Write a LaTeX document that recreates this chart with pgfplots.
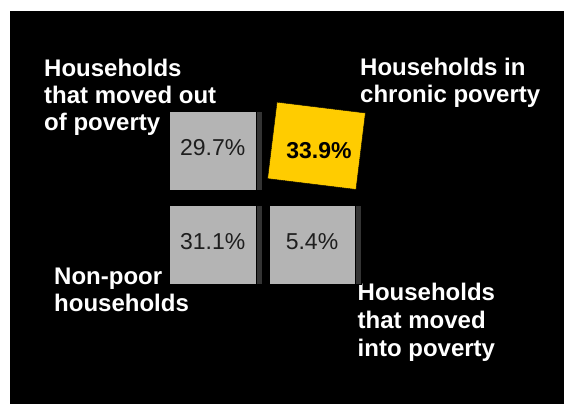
\documentclass[border=0pt]{standalone}
\usepackage{fontspec}
\setmainfont{Liberation Sans}
\usepackage{pgfplots}
\usepackage{pgfplotstable}
\pgfplotsset{compat=1.18}

\definecolor{cellgrey}{RGB}{180,180,180}
\definecolor{cellshadow}{RGB}{52,52,52}
\definecolor{chronic}{RGB}{255,204,0}
\definecolor{pcttext}{RGB}{30,30,30}

% cell centres in pixel coordinates (y grows downwards), share in percent
\pgfplotstableread{
x     y     pct
212.7 150.7 29.7
212.7 245.0 31.1
312.0 245.0 5.4
}\greycells
\pgfplotstableread{
x     y     pct
316.5 145.8 33.9
}\chroniccell

\begin{document}
\begin{tikzpicture}[
    lbl/.style={anchor=base west, inner sep=0pt, text=white,
        font=\bfseries\fontsize{24}{27}\selectfont},
]
\begin{axis}[
    width=564pt, height=404pt, scale only axis,
    xmin=0, xmax=564, ymin=0, ymax=404,
    enlargelimits=false,
    y dir=reverse,
    hide axis,
    clip=false,
    every node near coord/.append style={anchor=center, inner sep=0pt,
        font=\fontsize{23}{26}\selectfont},
]
    % white page and black panel
    \addplot[fill=white, draw=none] coordinates {(0,0) (564,0) (564,404) (0,404)} -- cycle;
    \addplot[fill=black, draw=none] coordinates {(10,11) (564,11) (564,404) (10,404)} -- cycle;

    % dark strip on the right of the grey cells
    \addplot[only marks, mark=square*, mark size=39.5pt,
        mark options={fill=cellshadow, draw=none, xscale=1.089}]
        table[x expr=\thisrow{x}+6, y=y] {\greycells};

    \addplot[only marks, mark=square*, mark size=39.5pt,
        mark options={fill=cellgrey, draw=none, xscale=1.089},
        point meta=explicit symbolic,
        nodes near coords={\pgfplotspointmeta\%},
        nodes near coords style={text=pcttext, yshift=3pt}]
        table[x=x, y=y, meta=pct] {\greycells};

    % chronic poverty, tilted yellow cell
    \addplot[only marks, mark=square*, mark size=38.5pt,
        mark options={fill=chronic, draw=none, rotate=-7, xscale=1.156},
        point meta=explicit symbolic,
        nodes near coords={\pgfplotspointmeta\%},
        nodes near coords style={text=black, xshift=2.5pt, yshift=-5pt,
            font=\bfseries\fontsize{23}{26}\selectfont}]
        table[x=x, y=y, meta=pct] {\chroniccell};

    \node[lbl] at (axis cs:44,76) {Households};
    \node[lbl] at (axis cs:44,103) {that moved out};
    \node[lbl] at (axis cs:44,130) {of poverty};

    \node[lbl] at (axis cs:360,75) {Households in};
    \node[lbl] at (axis cs:360,102) {chronic poverty};

    \node[lbl] at (axis cs:54,284.5) {Non-poor};
    \node[lbl] at (axis cs:54,311.5) {households};

    \node[lbl] at (axis cs:357.5,300.5) {Households};
    \node[lbl] at (axis cs:357.5,328.5) {that moved};
    \node[lbl] at (axis cs:357.5,356) {into poverty};
\end{axis}
\end{tikzpicture}
\end{document}
